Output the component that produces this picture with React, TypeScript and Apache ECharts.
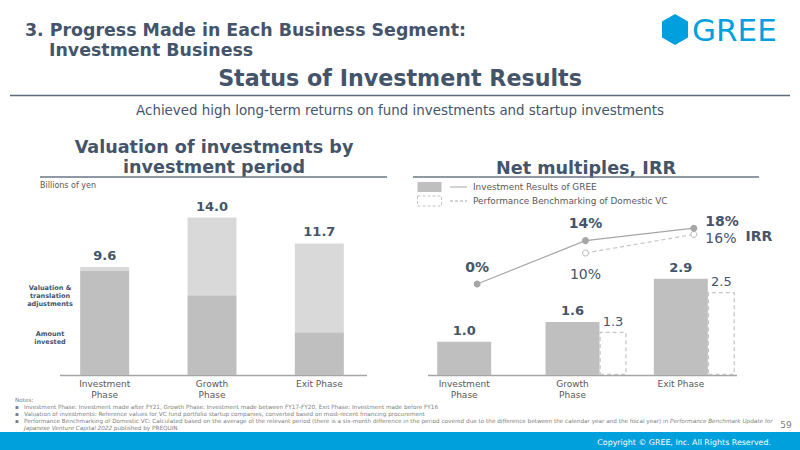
import React, { useEffect, useRef } from "react";
import * as echarts from "echarts";

// Valuation of investments by investment period (billions of yen)
const phaseCategories = ["Investment\nPhase", "Growth\nPhase", "Exit Phase"];
const amountInvested = [9.3, 7.1, 3.8];
const valuationAdjustments = [0.3, 6.9, 7.9];

// Net multiples
const netMultipleGree = [1.0, 1.6, 2.9];
const netMultipleBenchmark: (number | string)[] = ["-", 1.3, 2.5];

// IRR (%)
const irrGree = [0, 14, 18];
const irrBenchmark: (number | string)[] = ["-", 10, 16];

const SLATE = "#44546a";
const GREY_TEXT = "#595959";
const BAR_DARK = "#bfbfbf";
const BAR_LIGHT = "#d9d9d9";
const FONT = "DejaVu Sans";

const noteLines = [
  "Investment Phase: Investment made after FY21, Growth Phase: Investment made between FY17-FY20, Exit Phase: Investment made before FY16",
  "Valuation of investments: Reference values for VC fund portfolio startup companies, converted based on most-recent financing procurement",
  "Performance Benchmarking of Domestic VC: Calculated based on the average of the relevant period (there is a six-month difference in the period covered due to the difference between the calendar year and the fiscal year) in {i|Performance Benchmark Update for}",
  "{i|Japanese Venture Capital 2022} published by PREQUIN",
];

function txt(
  text: string,
  x: number,
  y: number,
  size: number,
  opts: { bold?: boolean; color?: string; align?: string; rich?: any } = {}
) {
  return {
    type: "text",
    x,
    y,
    silent: true,
    style: {
      text,
      fontSize: size,
      fontWeight: opts.bold ? "bold" : "normal",
      fontFamily: FONT,
      fill: opts.color || SLATE,
      align: opts.align || "left",
      verticalAlign: "middle",
      rich: opts.rich,
    },
  };
}

function hline(x1: number, x2: number, y: number, color: string, width: number, dashed = false) {
  return {
    type: "line",
    silent: true,
    shape: { x1, y1: y, x2, y2: y },
    style: { stroke: color, lineWidth: width, lineDash: dashed ? [3, 2] : null },
  };
}

export default function App() {
  const ref = useRef<HTMLDivElement>(null);

  useEffect(() => {
    if (!ref.current) return;
    const chart = echarts.init(ref.current, null, { renderer: "svg" });

    const totals = amountInvested.map((v, i) => +(v + valuationAdjustments[i]).toFixed(1));

    const axisLabel = {
      color: GREY_TEXT,
      fontSize: 9,
      lineHeight: 11,
      fontFamily: FONT,
      margin: 3,
      interval: 0,
    };

    const hiddenValueAxis = (gridIndex: number, min: number, max: number) => ({
      type: "value",
      gridIndex,
      min,
      max,
      show: false,
      splitLine: { show: false },
    });

    const irrLabel = (position: string, extra: any = {}) => ({
      show: true,
      position,
      fontFamily: FONT,
      fontSize: 14,
      color: SLATE,
      formatter: (p: any) => `${p.value}%`,
      ...extra,
    });

    const notesGraphic: any[] = [txt("Notes:", 15, 400, 5.7, { color: "#808080" })];
    noteLines.forEach((line, i) => {
      const y = 407 + i * 7;
      if (i < 3) notesGraphic.push(txt("▪", 15, y, 5.7, { color: "#808080" }));
      notesGraphic.push(
        txt(line, 24, y, 5.7, {
          color: "#808080",
          rich: { i: { fontStyle: "italic", fontSize: 5.7, fontFamily: FONT, fill: "#808080", color: "#808080" } },
        })
      );
    });

    const option: any = {
      animation: false,
      backgroundColor: "#ffffff",
      textStyle: { fontFamily: FONT },
      grid: [
        { left: 51, width: 322, top: 195, bottom: 75, outerBoundsMode: "none" },
        { left: 410, width: 325, top: 209, bottom: 75, outerBoundsMode: "none" },
        { left: 423, width: 325, top: 191, bottom: 73, outerBoundsMode: "none" },
      ],
      xAxis: [
        {
          type: "category",
          gridIndex: 0,
          data: phaseCategories,
          axisLine: { show: false },
          axisTick: { show: false },
          axisLabel,
        },
        {
          type: "category",
          gridIndex: 1,
          data: phaseCategories,
          axisLine: { show: false },
          axisTick: { show: false },
          axisLabel,
        },
        {
          type: "category",
          gridIndex: 2,
          data: phaseCategories,
          show: false,
        },
      ],
      yAxis: [hiddenValueAxis(0, 0, 16), hiddenValueAxis(1, 0, 5), hiddenValueAxis(2, -30, 30)],
      series: [
        {
          name: "Amount invested",
          type: "bar",
          xAxisIndex: 0,
          yAxisIndex: 0,
          stack: "valuation",
          barWidth: 49,
          data: amountInvested,
          itemStyle: { color: BAR_DARK },
        },
        {
          name: "Valuation & translation adjustments",
          type: "bar",
          xAxisIndex: 0,
          yAxisIndex: 0,
          stack: "valuation",
          barWidth: 49,
          data: valuationAdjustments,
          itemStyle: { color: BAR_LIGHT },
          label: {
            show: true,
            position: "top",
            distance: 5,
            fontFamily: FONT,
            fontSize: 13,
            fontWeight: "bold",
            color: SLATE,
            formatter: (p: any) => totals[p.dataIndex].toFixed(1),
          },
        },
        {
          // spacer keeps the GREE bar centred on its category
          name: "spacer",
          type: "bar",
          xAxisIndex: 1,
          yAxisIndex: 1,
          barWidth: 27,
          barGap: 0,
          silent: true,
          data: [0, 0, 0],
          itemStyle: { opacity: 0 },
        },
        {
          name: "Investment Results of GREE",
          type: "bar",
          xAxisIndex: 1,
          yAxisIndex: 1,
          barWidth: 54,
          barGap: 0,
          z: 3,
          data: netMultipleGree,
          itemStyle: { color: BAR_DARK },
          label: {
            show: true,
            position: "top",
            distance: 5,
            fontFamily: FONT,
            fontSize: 13,
            fontWeight: "bold",
            color: SLATE,
            formatter: (p: any) => Number(p.value).toFixed(1),
          },
        },
        {
          name: "Performance Benchmarking of Domestic VC",
          type: "bar",
          xAxisIndex: 1,
          yAxisIndex: 1,
          barWidth: 27,
          barGap: 0,
          z: 2,
          data: netMultipleBenchmark,
          itemStyle: {
            color: "#ffffff",
            borderColor: "#c4c4c4",
            borderWidth: 1.2,
            borderType: [4, 3],
          },
          label: {
            show: true,
            position: "top",
            distance: 4,
            fontFamily: FONT,
            fontSize: 13,
            color: SLATE,
            formatter: (p: any) => Number(p.value).toFixed(1),
          },
        },
        {
          name: "IRR GREE",
          type: "line",
          xAxisIndex: 2,
          yAxisIndex: 2,
          z: 5,
          symbol: "circle",
          symbolSize: 7,
          lineStyle: { color: "#a6a6a6", width: 1.2 },
          itemStyle: { color: "#a6a6a6" },
          data: [
            { value: irrGree[0], label: irrLabel("top", { distance: 7, fontWeight: "bold" }) },
            { value: irrGree[1], label: irrLabel("top", { distance: 7, fontWeight: "bold" }) },
            { value: irrGree[2], label: irrLabel("right", { distance: 8, fontWeight: "bold", offset: [0, -7] }) },
          ],
        },
        {
          name: "IRR benchmark",
          type: "line",
          xAxisIndex: 2,
          yAxisIndex: 2,
          z: 4,
          symbol: "circle",
          symbolSize: 6,
          lineStyle: { color: "#c4c4c4", width: 1.2, type: [4, 3] },
          itemStyle: { color: "#ffffff", borderColor: "#b8b8b8", borderWidth: 1 },
          data: [
            irrBenchmark[0],
            { value: irrBenchmark[1], label: irrLabel("bottom", { distance: 10 }) },
            { value: irrBenchmark[2], label: irrLabel("right", { distance: 8, offset: [0, 4] }) },
          ],
        },
      ],
      graphic: [
        // header
        txt("3. Progress Made in Each Business Segment:", 25, 30, 17.4, { bold: true }),
        txt("Investment Business", 49, 50, 17.4, { bold: true }),
        {
          type: "polygon",
          silent: true,
          shape: {
            points: [
              [675, 14],
              [688, 21.5],
              [688, 37.5],
              [675, 45],
              [662, 37.5],
              [662, 21.5],
            ],
          },
          style: { fill: "#00a0de" },
        },
        txt("GREE", 692, 30, 31, { color: "#00a0de" }),
        txt("Status of Investment Results", 400, 78, 22.2, { bold: true, align: "center" }),
        hline(10, 790, 95.5, "#5f6b7a", 1.5),
        txt(
          "Achieved high long-term returns on fund investments and startup investments",
          400,
          110,
          13.4,
          { align: "center" }
        ),
        // left panel
        txt("Valuation of investments by", 214, 147, 17.6, { bold: true, align: "center" }),
        txt("investment period", 214, 167, 17.6, { bold: true, align: "center" }),
        hline(40, 387, 177, "#6b7685", 1.5),
        txt("Billions of yen", 40, 185, 8, { color: GREY_TEXT }),
        txt("Valuation &", 50, 288, 6.5, { bold: true, align: "center" }),
        txt("translation", 50, 296, 6.5, { bold: true, align: "center" }),
        txt("adjustments", 50, 304, 6.5, { bold: true, align: "center" }),
        txt("Amount", 50, 333.5, 6.5, { bold: true, align: "center" }),
        txt("invested", 50, 341.5, 6.5, { bold: true, align: "center" }),
        hline(60, 367, 375.5, "#a6a6a6", 1.5),
        // right panel
        txt("Net multiples, IRR", 586, 168, 17.6, { bold: true, align: "center" }),
        hline(413, 759, 177, "#6b7685", 1.5),
        {
          type: "rect",
          silent: true,
          shape: { x: 417.5, y: 182, width: 24, height: 10 },
          style: { fill: BAR_DARK },
        },
        hline(450, 467, 187, "#a6a6a6", 1),
        txt("Investment Results of GREE", 473, 187, 8.9, { color: GREY_TEXT }),
        {
          type: "rect",
          silent: true,
          shape: { x: 417.5, y: 196, width: 24, height: 10 },
          style: { fill: "#ffffff", stroke: "#c4c4c4", lineWidth: 1, lineDash: [3, 2] },
        },
        hline(450, 467, 201, "#a6a6a6", 1, true),
        txt("Performance Benchmarking of Domestic VC", 473, 201, 8.9, { color: GREY_TEXT }),
        txt("IRR", 759, 236, 14, { bold: true, align: "center" }),
        hline(428, 737, 375.5, "#a6a6a6", 1.5),
        // notes
        ...notesGraphic,
        txt("59", 786, 425, 9, { color: "#808080", align: "center" }),
        // footer band
        {
          type: "rect",
          silent: true,
          shape: { x: 0, y: 432, width: 800, height: 18 },
          style: { fill: "#00a0dc" },
        },
        txt("Copyright © GREE, Inc. All Rights Reserved.", 771, 442, 7.9, {
          color: "#ffffff",
          align: "right",
        }),
      ],
    };

    chart.setOption(option);
    return () => chart.dispose();
  }, []);

  return (
    <div
      ref={ref}
      style={{ position: "fixed", left: 0, top: 0, width: 800, height: 450, background: "#fff" }}
    />
  );
}
